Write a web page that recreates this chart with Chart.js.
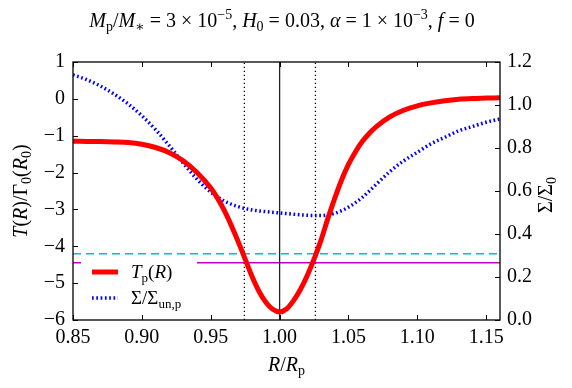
<!DOCTYPE html>
<html lang="en">
<head>
    <meta charset="UTF-8">
    <title>Torque profile</title>
    <style>
        body { margin: 0; background: #fff; }
    </style>
</head>
<body>
    <div style="width:572px;height:388px">
        <canvas id="myChart" width="572" height="388"></canvas>
    </div>

    <script src="https://cdn.jsdelivr.net/npm/chart.js"></script>

    <script>
    // torque T(R)/Gamma0(R0), left axis
    const rT = [0.85, 0.86, 0.87, 0.88, 0.89, 0.90, 0.91, 0.92, 0.93, 0.94, 0.95, 0.955, 0.96, 0.965, 0.97, 0.975, 0.98, 0.985, 0.99, 0.995,
                1.00, 1.005, 1.01, 1.015, 1.02, 1.025, 1.03, 1.035, 1.04, 1.045, 1.05, 1.055, 1.06, 1.065, 1.07, 1.08, 1.09, 1.10, 1.11, 1.12, 1.13, 1.14, 1.15, 1.16];
    const tVals = [-1.15, -1.155, -1.16, -1.17, -1.185, -1.23, -1.32, -1.46, -1.68, -2.00, -2.42, -2.70, -3.04, -3.44, -3.88, -4.35, -4.82, -5.22, -5.52, -5.71,
                -5.78, -5.70, -5.48, -5.18, -4.80, -4.35, -3.84, -3.25, -2.70, -2.20, -1.78, -1.44, -1.16, -0.94, -0.76, -0.49, -0.31, -0.19, -0.11, -0.05, -0.01, 0.01, 0.02, 0.03];

    // surface density, right axis
    const rSigma = [0.85, 0.86, 0.87, 0.88, 0.89, 0.90, 0.91, 0.92, 0.93, 0.94, 0.95, 0.96, 0.97, 0.98, 0.99, 1.00, 1.01, 1.02, 1.03, 1.04,
                1.05, 1.06, 1.07, 1.08, 1.09, 1.10, 1.11, 1.12, 1.13, 1.14, 1.15, 1.16];
    const sigmaVals = [1.14, 1.118, 1.088, 1.05, 1.005, 0.95, 0.885, 0.81, 0.73, 0.655, 0.595, 0.553, 0.527, 0.512, 0.504, 0.498, 0.492, 0.487, 0.486, 0.496,
                0.525, 0.57, 0.63, 0.69, 0.74, 0.78, 0.82, 0.85, 0.88, 0.90, 0.92, 0.935];

    const xTicks = [0.85, 0.90, 0.95, 1.00, 1.05, 1.10, 1.15];
    const yTicks = [-6, -5, -4, -3, -2, -1, 0, 1];
    const y2Ticks = [0.0, 0.2, 0.4, 0.6, 0.8, 1.0, 1.2];

    const cyanLevel = -4.2;
    const purpleLevel = -4.45;
    const dottedR = [0.9744, 1.026];
    const solidR = 1.0;

    const SERIF = '"Liberation Serif", "DejaVu Serif", serif';

    // draw text made of pieces: [text, style]; i=italic, r=roman, si/sr=subscript, pr=superscript
    function rich(ctx, parts, x, y, size, align) {
        const small = Math.round(size * 0.7);
        const fonts = {
            i: 'italic ' + size + 'px ' + SERIF,
            r: size + 'px ' + SERIF,
            si: 'italic ' + small + 'px ' + SERIF,
            sr: small + 'px ' + SERIF,
            pr: small + 'px ' + SERIF
        };
        let total = 0;
        const widths = parts.map(p => {
            ctx.font = fonts[p[1]];
            const w = ctx.measureText(p[0]).width;
            total += w;
            return w;
        });
        let cx = align === 'center' ? x - total / 2 : x;
        ctx.textAlign = 'left';
        ctx.textBaseline = 'alphabetic';
        ctx.fillStyle = '#000';
        parts.forEach((p, k) => {
            ctx.font = fonts[p[1]];
            let dy = 0;
            if (p[1] === 'si' || p[1] === 'sr') dy = size * 0.22;
            if (p[1] === 'pr') dy = -size * 0.4;
            ctx.fillText(p[0], cx, y + dy);
            cx += widths[k];
        });
    }

    const decorations = {
        id: 'decorations',
        afterDatasetsDraw(chart) {
            const ctx = chart.ctx;
            const a = chart.chartArea;
            const sx = chart.scales.x, sy = chart.scales.y, sy2 = chart.scales.y2;
            ctx.save();

            // legend, white box without border
            ctx.fillStyle = '#fff';
            ctx.fillRect(81, 259, 116, 54);
            ctx.lineWidth = 5;
            ctx.strokeStyle = '#ff0000';
            ctx.beginPath(); ctx.moveTo(92, 272); ctx.lineTo(118, 272); ctx.stroke();
            ctx.lineWidth = 3.5;
            ctx.strokeStyle = '#0000ff';
            ctx.setLineDash([1.7, 2.6]);
            ctx.beginPath(); ctx.moveTo(92, 298); ctx.lineTo(118, 298); ctx.stroke();
            ctx.setLineDash([]);
            rich(ctx, [['T', 'i'], ['p', 'sr'], ['(', 'r'], ['R', 'i'], [')', 'r']], 131, 278, 19, 'left');
            rich(ctx, [['Σ/Σ', 'r'], ['un,p', 'sr']], 131, 304, 19, 'left');

            // frame
            ctx.strokeStyle = '#000';
            ctx.lineWidth = 1.3;
            ctx.strokeRect(a.left, a.top, a.right - a.left, a.bottom - a.top);

            // inward ticks
            ctx.lineWidth = 1;
            ctx.beginPath();
            xTicks.forEach(v => {
                const px = Math.round(sx.getPixelForValue(v)) + 0.5;
                ctx.moveTo(px, a.bottom); ctx.lineTo(px, a.bottom - 5);
                ctx.moveTo(px, a.top); ctx.lineTo(px, a.top + 5);
            });
            yTicks.forEach(v => {
                const py = Math.round(sy.getPixelForValue(v)) + 0.5;
                ctx.moveTo(a.left, py); ctx.lineTo(a.left + 5, py);
            });
            y2Ticks.forEach(v => {
                const py = Math.round(sy2.getPixelForValue(v)) + 0.5;
                ctx.moveTo(a.right, py); ctx.lineTo(a.right - 5, py);
            });
            ctx.stroke();

            // title
            rich(ctx, [['M', 'i'], ['p', 'sr'], ['/', 'r'], ['M', 'i'], ['∗', 'sr'], [' = 3 × 10', 'r'], ['−5', 'pr'], [', ', 'r'],
                       ['H', 'i'], ['0', 'sr'], [' = 0.03, ', 'r'], ['α', 'i'], [' = 1 × 10', 'r'], ['−3', 'pr'], [', ', 'r'],
                       ['f', 'i'], [' = 0', 'r']], 282, 27, 20, 'center');

            // axis titles
            rich(ctx, [['R', 'i'], ['/', 'r'], ['R', 'i'], ['p', 'sr']], (a.left + a.right) / 2, 371, 20, 'center');

            ctx.save();
            ctx.translate(27, (a.top + a.bottom) / 2);
            ctx.rotate(-Math.PI / 2);
            rich(ctx, [['T', 'i'], ['(', 'r'], ['R', 'i'], [')/Γ', 'r'], ['0', 'sr'], ['(', 'r'], ['R', 'i'], ['0', 'sr'], [')', 'r']], 0, 0, 20, 'center');
            ctx.restore();

            ctx.save();
            ctx.translate(552, 195);
            ctx.rotate(-Math.PI / 2);
            rich(ctx, [['Σ/Σ', 'r'], ['0', 'sr']], 0, 0, 20, 'center');
            ctx.restore();

            ctx.restore();
        }
    };

    function pts(xs, ys) {
        return xs.map((x, k) => ({ x: x, y: ys[k] }));
    }

    const tickFont = { family: SERIF, size: 20 };

    new Chart(document.getElementById('myChart'), {
        type: 'line',
        data: {
            datasets: [
                {
                    label: 'T_p(R)',
                    data: pts(rT, tVals),
                    yAxisID: 'y',
                    borderColor: '#ff0000',
                    borderWidth: 5,
                    pointRadius: 0,
                    cubicInterpolationMode: 'monotone',
                    order: 1
                },
                {
                    label: 'Sigma/Sigma_un,p',
                    data: pts(rSigma, sigmaVals),
                    yAxisID: 'y2',
                    borderColor: '#0000ff',
                    borderWidth: 3.5,
                    borderDash: [1.7, 2.6],
                    pointRadius: 0,
                    cubicInterpolationMode: 'monotone',
                    order: 2
                },
                {
                    label: 'cyan',
                    data: [{ x: 0.85, y: cyanLevel }, { x: 1.16, y: cyanLevel }],
                    yAxisID: 'y',
                    borderColor: '#00bfbf',
                    borderWidth: 1.5,
                    borderDash: [8, 5],
                    pointRadius: 0,
                    order: 4
                },
                {
                    label: 'purple',
                    data: [{ x: 0.85, y: purpleLevel }, { x: 1.16, y: purpleLevel }],
                    yAxisID: 'y',
                    borderColor: '#bf00bf',
                    borderWidth: 1.5,
                    pointRadius: 0,
                    order: 4
                },
                {
                    label: 'centre',
                    data: [{ x: solidR, y: -6 }, { x: solidR, y: 1 }],
                    yAxisID: 'y',
                    borderColor: '#222',
                    borderWidth: 1.3,
                    pointRadius: 0,
                    order: 3
                },
                {
                    label: 'left',
                    data: [{ x: dottedR[0], y: -6 }, { x: dottedR[0], y: 1 }],
                    yAxisID: 'y',
                    borderColor: '#000',
                    borderWidth: 1.3,
                    borderDash: [1.3, 2.7],
                    pointRadius: 0,
                    order: 3
                },
                {
                    label: 'right',
                    data: [{ x: dottedR[1], y: -6 }, { x: dottedR[1], y: 1 }],
                    yAxisID: 'y',
                    borderColor: '#000',
                    borderWidth: 1.3,
                    borderDash: [1.3, 2.7],
                    pointRadius: 0,
                    order: 3
                }
            ]
        },
        options: {
            responsive: false,
            animation: false,
            layout: { padding: { top: 62, left: 0, right: 0, bottom: 0 } },
            plugins: {
                legend: { display: false },
                title: { display: false },
                tooltip: { enabled: false }
            },
            scales: {
                x: {
                    type: 'linear',
                    min: 0.85,
                    max: 1.16,
                    afterBuildTicks: s => { s.ticks = xTicks.map(v => ({ value: v })); },
                    afterFit: s => { s.height = 68; },
                    grid: { display: false, drawTicks: false },
                    border: { display: false },
                    ticks: { font: tickFont, color: '#000', padding: 6, maxRotation: 0, callback: v => v.toFixed(2) }
                },
                y: {
                    type: 'linear',
                    position: 'left',
                    min: -6,
                    max: 1,
                    afterBuildTicks: s => { s.ticks = yTicks.map(v => ({ value: v })); },
                    afterFit: s => { s.width = 73; },
                    grid: { display: false, drawTicks: false },
                    border: { display: false },
                    ticks: { font: tickFont, color: '#000', padding: 8, callback: v => v < 0 ? '\u2212' + (-v) : String(v) }
                },
                y2: {
                    type: 'linear',
                    position: 'right',
                    min: 0,
                    max: 1.2,
                    afterBuildTicks: s => { s.ticks = y2Ticks.map(v => ({ value: v })); },
                    afterFit: s => { s.width = 72; },
                    grid: { display: false, drawTicks: false },
                    border: { display: false },
                    ticks: { font: tickFont, color: '#000', padding: 7, callback: v => v.toFixed(1) }
                }
            }
        },
        plugins: [decorations]
    });
    </script>
</body>
</html>
